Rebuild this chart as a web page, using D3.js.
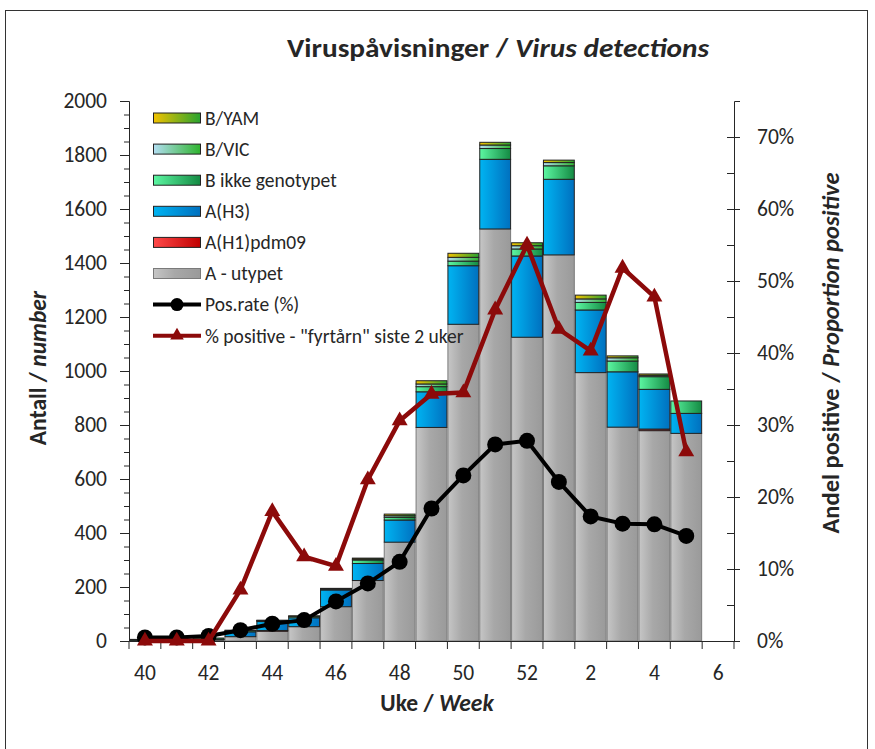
<!DOCTYPE html>
<html>
<head>
<meta charset="utf-8">
<script src="https://cdn.jsdelivr.net/npm/d3@7/dist/d3.min.js"></script>
<style>
  html, body { margin: 0; padding: 0; background: #fff; }
  svg { display: block; }
  text { font-family: Carlito, Lato, "Open Sans", sans-serif; fill: #262626; }
</style>
</head>
<body>
<svg id="chart" width="875" height="749"></svg>
<script>
// ---------------- DATA ----------------
const weeks = ["40","41","42","43","44","45","46","47","48","49","50","51","52","1","2","3","4","5","6"];
const aUtypet = [2, 2, 4, 16, 36, 53, 127, 224, 366, 791, 1173, 1526, 1125, 1430, 994, 792, 779, 769];
const aH1pdm09 = [0, 0, 0, 0, 3, 0, 0, 0, 0, 0, 0, 0, 0, 0, 0, 0, 6, 0];
const aH3 = [1, 1, 2, 18, 33, 33, 62, 63, 82, 132, 217, 258, 301, 280, 232, 205, 147, 74];
const bIkkeGenotypet = [3, 3, 5, 5, 3, 5, 3, 13, 10, 19, 17, 40, 26, 50, 28, 40, 47, 46];
const bVic = [0, 0, 0, 1, 1, 1, 1, 3, 6, 10, 14, 13, 12, 12, 13, 12, 5, 0];
const bYam = [0, 0, 0, 0, 1, 1, 2, 4, 6, 12, 15, 10, 11, 9, 14, 7, 5, 0];
const posRate = [0.5, 0.5, 0.7, 1.5, 2.4, 2.9, 5.5, 8.0, 11.0, 18.4, 23.0, 27.3, 27.8, 22.1, 17.3, 16.3, 16.2, 14.6];
const fyrtarn = [0, 0, 0, 7.1, 18.0, 11.7, 10.4, 22.4, 30.6, 34.3, 34.5, 46.0, 55.0, 43.3, 40.3, 51.8, 47.8, 26.3];
const leftTicks = [0, 200, 400, 600, 800, 1000, 1200, 1400, 1600, 1800, 2000];
const rightTicks = [0, 10, 20, 30, 40, 50, 60, 70];

const seriesNames = ["A - utypet", "A(H1)pdm09", "A(H3)", "B ikke genotypet", "B/VIC", "B/YAM"];
const seriesValues = [aUtypet, aH1pdm09, aH3, bIkkeGenotypet, bVic, bYam];
const lineNames = ["Pos.rate (%)", "% positive - \"fyrtårn\" siste 2 uker"];

// ---------------- STYLE ----------------
const grads = {
  "A - utypet": [["0%", "#c6c6c6"], ["45%", "#a8a8a8"], ["100%", "#9a9a9a"]],
  "A(H1)pdm09": [["0%", "#ff4a4a"], ["100%", "#c00000"]],
  "A(H3)": [["0%", "#00b4f2"], ["100%", "#0070bf"]],
  "B ikke genotypet": [["0%", "#5cf7a2"], ["100%", "#148a43"]],
  "B/VIC": [["0%", "#b3def2"], ["100%", "#2eb42e"]],
  "B/YAM": [["0%", "#f2c200"], ["100%", "#28a32f"]]
};
const strokes = {
  "A - utypet": "#7a7a7a", "A(H1)pdm09": "#222", "A(H3)": "#222",
  "B ikke genotypet": "#222", "B/VIC": "#222", "B/YAM": "#222"
};
const RED = "#8c0a0a";

const svg = d3.select("#chart");
const L = 129, R = 734, T = 101, B = 641;

// frame
svg.append("rect").attr("x", 5.5).attr("y", 10.5).attr("width", 862).attr("height", 760)
  .attr("fill", "#fff").attr("stroke", "#333").attr("stroke-width", 1);

const defs = svg.append("defs");
seriesNames.forEach((n, i) => {
  const g = defs.append("linearGradient").attr("id", "g" + i)
    .attr("x1", "0%").attr("x2", "100%").attr("y1", "0%").attr("y2", "0%");
  grads[n].forEach(s => g.append("stop").attr("offset", s[0]).attr("stop-color", s[1]));
});

const x = d3.scaleBand().domain(weeks).range([L, R]).padding(0);
const y = d3.scaleLinear().domain([0, 2000]).range([B, T]);
const y2 = d3.scaleLinear().domain([0, 75]).range([B, T]);

// stacked data
const rows = weeks.slice(0, aUtypet.length).map((w, i) => {
  const o = { week: w };
  seriesNames.forEach((n, k) => o[n] = seriesValues[k][i]);
  return o;
});
const stacked = d3.stack().keys(seriesNames)(rows);

const barG = svg.append("g");
stacked.forEach((layer, k) => {
  barG.append("g").selectAll("rect").data(layer.filter(d => d[1] - d[0] > 0)).join("rect")
    .attr("x", d => x(d.data.week) + 0.5)
    .attr("width", x.bandwidth() - 1)
    .attr("y", d => y(d[1]))
    .attr("height", d => y(d[0]) - y(d[1]))
    .attr("fill", "url(#g" + k + ")")
    .attr("stroke", strokes[layer.key])
    .attr("stroke-width", 1);
});

// ---------------- AXES ----------------
const fontAxis = "21.5px";
// left axis
const yAxis = svg.append("g").attr("transform", `translate(${L},0)`)
  .call(d3.axisLeft(y).tickValues(leftTicks).tickSize(9).tickPadding(13).tickFormat(d3.format("d")));
yAxis.selectAll("text").style("font-size", fontAxis).attr("fill", "#262626");
svg.append("g").attr("transform", `translate(${L},0)`)
  .call(d3.axisLeft(y).tickValues(d3.range(0, 2001, 50)).tickSize(5).tickFormat(""))
  .call(g => g.select(".domain").remove());

// right axis
const y2Axis = svg.append("g").attr("transform", `translate(${R},0)`)
  .call(d3.axisRight(y2).tickValues(rightTicks).tickSize(6).tickPadding(17).tickFormat(d => d + "%"));
y2Axis.selectAll("text").style("font-size", fontAxis).attr("fill", "#262626");
y2Axis.selectAll(".tick line").attr("x1", -7);
svg.append("g").attr("transform", `translate(${R},0)`)
  .call(d3.axisRight(y2).tickValues(d3.range(5, 75, 10)).tickSize(0).tickFormat(""))
  .call(g => g.select(".domain").remove())
  .selectAll(".tick line").attr("x1", -7).attr("x2", 0);

// bottom axis
const xAxis = svg.append("g").attr("transform", `translate(0,${B})`)
  .call(d3.axisBottom(x).tickSize(0).tickPadding(24).tickFormat((d, i) => i % 2 === 0 ? d : ""));
xAxis.selectAll("text").style("font-size", fontAxis).attr("fill", "#262626");
xAxis.selectAll(".tick").filter((d, i) => i % 2 === 1).remove();
svg.append("g").selectAll("line").data(weeks.concat(["end"])).join("line")
  .attr("x1", d => d === "end" ? R : x(d)).attr("x2", d => d === "end" ? R : x(d))
  .attr("y1", B).attr("y2", B + 8).attr("stroke", "#262626");

svg.selectAll(".domain").attr("stroke", "#262626");
svg.selectAll(".tick line").attr("stroke", "#262626");

// ---------------- LINES ----------------
const cx = (i) => x(weeks[i]) + x.bandwidth() / 2;
const lineGen = d3.line().x((d, i) => cx(i)).y(d => y2(d));
svg.append("path").datum(posRate).attr("d", lineGen)
  .attr("fill", "none").attr("stroke", "#000").attr("stroke-width", 4).attr("stroke-linejoin", "round");
svg.append("g").selectAll("circle").data(posRate).join("circle")
  .attr("cx", (d, i) => cx(i)).attr("cy", d => y2(d)).attr("r", 8).attr("fill", "#000");

const tri = d3.symbol().type(d3.symbolTriangle).size(110);
svg.append("path").datum(fyrtarn).attr("d", lineGen)
  .attr("fill", "none").attr("stroke", RED).attr("stroke-width", 4.5).attr("stroke-linejoin", "round");
svg.append("g").selectAll("path").data(fyrtarn).join("path")
  .attr("d", tri).attr("transform", (d, i) => `translate(${cx(i)},${y2(d)})`).attr("fill", RED);

// ---------------- LEGEND ----------------
const legendItems = [
  { name: "B/YAM", type: "bar", k: 5 },
  { name: "B/VIC", type: "bar", k: 4 },
  { name: "B ikke genotypet", type: "bar", k: 3 },
  { name: "A(H3)", type: "bar", k: 2 },
  { name: "A(H1)pdm09", type: "bar", k: 1 },
  { name: "A - utypet", type: "bar", k: 0 },
  { name: lineNames[0], type: "dot" },
  { name: lineNames[1], type: "tri" }
];
const lg = svg.append("g");
legendItems.forEach((it, j) => {
  const cy = 118 + j * 31.1;
  if (it.type === "bar") {
    lg.append("rect").attr("x", 153.5).attr("y", cy - 5).attr("width", 47).attr("height", 10)
      .attr("fill", `url(#g${it.k})`).attr("stroke", strokes[seriesNames[it.k]]);
  } else {
    const col = it.type === "dot" ? "#000" : RED;
    lg.append("line").attr("x1", 153).attr("x2", 201).attr("y1", cy).attr("y2", cy)
      .attr("stroke", col).attr("stroke-width", 4);
    if (it.type === "dot") lg.append("circle").attr("cx", 177).attr("cy", cy).attr("r", 6.5).attr("fill", col);
    else lg.append("path").attr("d", d3.symbol().type(d3.symbolTriangle).size(80)).attr("transform", `translate(177,${cy})`).attr("fill", col);
  }
  lg.append("text").attr("x", 205).attr("y", cy).attr("dy", "0.35em")
    .style("font-size", "19.5px").text(it.name);
});

// ---------------- TITLES ----------------
const title = svg.append("text").attr("x", 498).attr("y", 57).attr("text-anchor", "middle")
  .style("font-size", "27px").style("font-weight", "bold")
  .attr("textLength", 422).attr("lengthAdjust", "spacingAndGlyphs");
title.append("tspan").text("Viruspåvisninger / ");
title.append("tspan").style("font-style", "italic").text("Virus detections");

const xt = svg.append("text").attr("x", 437).attr("y", 711).attr("text-anchor", "middle")
  .style("font-size", "23.5px").style("font-weight", "bold");
xt.append("tspan").text("Uke / ");
xt.append("tspan").style("font-style", "italic").text("Week");

const ylt = svg.append("text").attr("transform", "translate(46,368) rotate(-90)").attr("text-anchor", "middle")
  .style("font-size", "23.5px").style("font-weight", "bold");
ylt.append("tspan").text("Antall / ");
ylt.append("tspan").style("font-style", "italic").text("number");

const yrt = svg.append("text").attr("transform", "translate(839,353) rotate(-90)").attr("text-anchor", "middle")
  .style("font-size", "24.5px").style("font-weight", "bold");
yrt.append("tspan").text("Andel positive / ");
yrt.append("tspan").style("font-style", "italic").text("Proportion positive");
</script>
</body>
</html>
